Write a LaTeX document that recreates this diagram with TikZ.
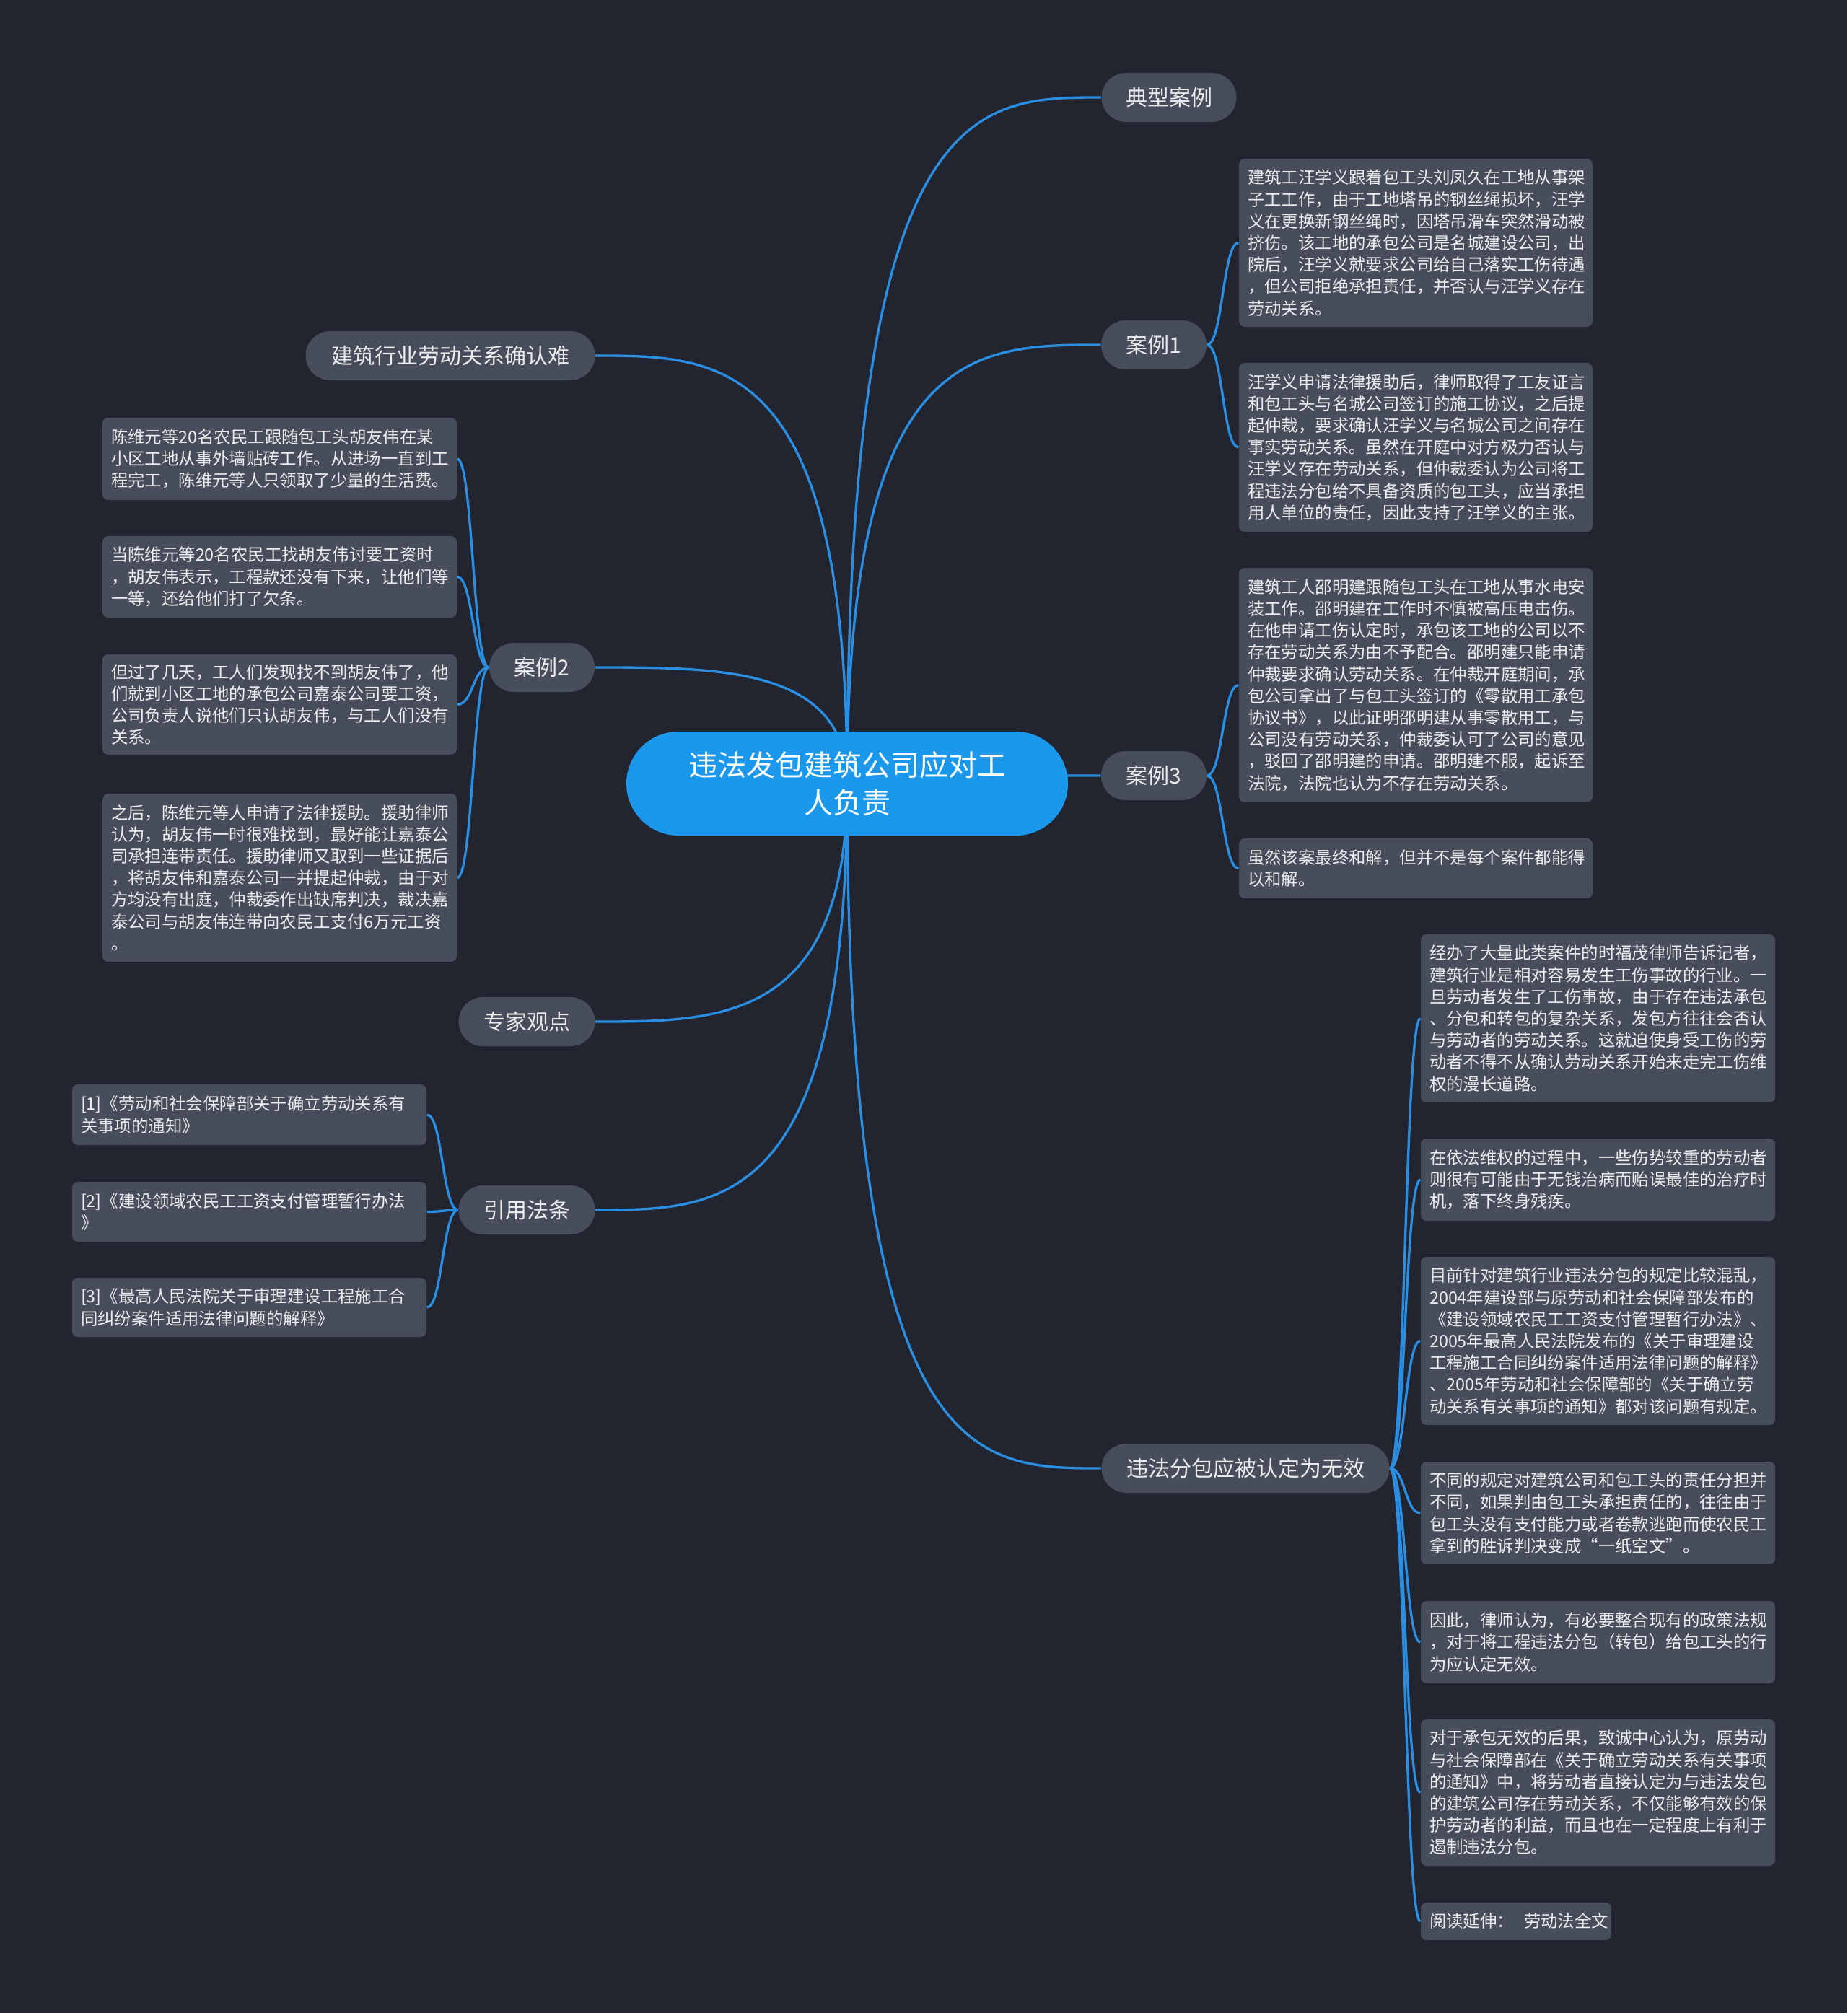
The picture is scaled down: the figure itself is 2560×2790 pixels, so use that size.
\documentclass[tikz,border=0pt]{standalone}
\usepackage{fontspec}
\setmainfont{Noto Sans CJK SC}
\usetikzlibrary{calc}
\definecolor{bgcol}{HTML}{22252F}
\definecolor{boxcol}{HTML}{484D5C}
\definecolor{txtcol}{HTML}{ECECEE}
\definecolor{maincol}{HTML}{1B98EC}
\definecolor{linkcol}{HTML}{2A8FE2}
\pgfdeclarelayer{background}
\pgfsetlayers{background,main}
\tikzset{
  leaf/.style={fill=boxcol, text=txtcol, rounded corners=2.4pt, align=left,
    inner xsep=3.6pt, inner ysep=0pt, font=\fontsize{7.02}{9.06}\selectfont},
  topic/.style={fill=boxcol, text=txtcol, rounded corners=10.2pt, minimum height=20.4pt,
    inner sep=0pt, font=\fontsize{9}{10}\selectfont},
  root/.style={fill=maincol, text=white, rounded corners=21.6pt, minimum width=183.6pt,
    minimum height=43.2pt, align=center, inner sep=0pt, font=\fontsize{12}{15.5}\selectfont},
  link/.style={draw=linkcol, line width=1pt},
}
\newcommand\leafbox[6]{%
  \pgfmathsetmacro\lbH{(#5-#3)*0.3}%
  \pgfmathsetmacro\lbT{(#4-#2-24)*0.3}%
  \node[leaf, minimum height=\lbH pt, text width=\lbT pt] (#1) at ({(#2+#4)/2},{(#3+#5)/2}) {#6};%
}
\newcommand\mainlink[1]{%
  \draw[link] let \p1=(root.center), \p2=(#1) in
    (\p1) .. controls (\x1,\y2) and ({0.5*\x1+0.5*\x2},\y2) .. (\p2);%
}
\newcommand\leaflink[2]{%
  \draw[link] let \p1=(#1), \p2=(#2) in
    (\p1) .. controls ({0.5*\x1+0.5*\x2},\y1) and ({0.5*\x1+0.5*\x2},\y2) .. (\p2);%
}
\begin{document}
\begin{tikzpicture}[x=0.3pt,y=-0.3pt]
\useasboundingbox (0,0) rectangle (2560,2790);

% root
\node[root] (root) at (1174,1086) {违法发包建筑公司应对工\\人负责};

% topics
\node[topic, minimum width=56.1pt]  (t1) at (1620,135)  {典型案例};
\node[topic, minimum width=43.8pt]  (c1) at (1599,478)  {案例1};
\node[topic, minimum width=43.8pt]  (c3) at (1599,1075) {案例3};
\node[topic, minimum width=119.7pt] (wf) at (1726,2035) {违法分包应被认定为无效};
\node[topic, minimum width=120.3pt] (jz) at (624,493)   {建筑行业劳动关系确认难};
\node[topic, minimum width=43.8pt]  (c2) at (751,925)   {案例2};
\node[topic, minimum width=56.7pt]  (zj) at (730,1416)  {专家观点};
\node[topic, minimum width=56.7pt]  (yy) at (730,1677)  {引用法条};

% case 1
\leafbox{a1}{1717}{220}{2207}{453}{建筑工汪学义跟着包工头刘凤久在工地从事架\\子工工作，由于工地塔吊的钢丝绳损坏，汪学\\义在更换新钢丝绳时，因塔吊滑车突然滑动被\\挤伤。该工地的承包公司是名城建设公司，出\\院后，汪学义就要求公司给自己落实工伤待遇\\，但公司拒绝承担责任，并否认与汪学义存在\\劳动关系。}
\leafbox{a2}{1717}{503}{2207}{737}{汪学义申请法律援助后，律师取得了工友证言\\和包工头与名城公司签订的施工协议，之后提\\起仲裁，要求确认汪学义与名城公司之间存在\\事实劳动关系。虽然在开庭中对方极力否认与\\汪学义存在劳动关系，但仲裁委认为公司将工\\程违法分包给不具备资质的包工头，应当承担\\用人单位的责任，因此支持了汪学义的主张。}

% case 3
\leafbox{b1}{1717}{787}{2207}{1112}{建筑工人邵明建跟随包工头在工地从事水电安\\装工作。邵明建在工作时不慎被高压电击伤。\\在他申请工伤认定时，承包该工地的公司以不\\存在劳动关系为由不予配合。邵明建只能申请\\仲裁要求确认劳动关系。在仲裁开庭期间，承\\包公司拿出了与包工头签订的《零散用工承包\\协议书》，以此证明邵明建从事零散用工，与\\公司没有劳动关系，仲裁委认可了公司的意见\\，驳回了邵明建的申请。邵明建不服，起诉至\\法院，法院也认为不存在劳动关系。}
\leafbox{b2}{1717}{1162}{2207}{1245}{虽然该案最终和解，但并不是每个案件都能得\\以和解。}

% illegal subcontracting
\leafbox{e1}{1969}{1295}{2460}{1528}{经办了大量此类案件的时福茂律师告诉记者，\\建筑行业是相对容易发生工伤事故的行业。一\\旦劳动者发生了工伤事故，由于存在违法承包\\、分包和转包的复杂关系，发包方往往会否认\\与劳动者的劳动关系。这就迫使身受工伤的劳\\动者不得不从确认劳动关系开始来走完工伤维\\权的漫长道路。}
\leafbox{e2}{1969}{1578}{2460}{1692}{在依法维权的过程中，一些伤势较重的劳动者\\则很有可能由于无钱治病而贻误最佳的治疗时\\机，落下终身残疾。}
\leafbox{e3}{1969}{1742}{2460}{1975}{目前针对建筑行业违法分包的规定比较混乱，\\2004年建设部与原劳动和社会保障部发布的\\《建设领域农民工工资支付管理暂行办法》、\\2005年最高人民法院发布的《关于审理建设\\工程施工合同纠纷案件适用法律问题的解释》\\、2005年劳动和社会保障部的《关于确立劳\\动关系有关事项的通知》都对该问题有规定。}
\leafbox{e4}{1969}{2026}{2460}{2168}{不同的规定对建筑公司和包工头的责任分担并\\不同，如果判由包工头承担责任的，往往由于\\包工头没有支付能力或者卷款逃跑而使农民工\\拿到的胜诉判决变成“一纸空文”。}
\leafbox{e5}{1969}{2219}{2460}{2333}{因此，律师认为，有必要整合现有的政策法规\\，对于将工程违法分包（转包）给包工头的行\\为应认定无效。}
\leafbox{e6}{1969}{2383}{2460}{2586}{对于承包无效的后果，致诚中心认为，原劳动\\与社会保障部在《关于确立劳动关系有关事项\\的通知》中，将劳动者直接认定为与违法发包\\的建筑公司存在劳动关系，不仅能够有效的保\\护劳动者的利益，而且也在一定程度上有利于\\遏制违法分包。}
\leafbox{e7}{1969}{2637}{2233}{2689}{\mbox{阅读延伸：\hspace{0.6em}劳动法全文}}

% case 2
\leafbox{l1}{142}{579}{633}{693}{陈维元等20名农民工跟随包工头胡友伟在某\\小区工地从事外墙贴砖工作。从进场一直到工\\程完工，陈维元等人只领取了少量的生活费。}
\leafbox{l2}{142}{743}{633}{856}{当陈维元等20名农民工找胡友伟讨要工资时\\，胡友伟表示，工程款还没有下来，让他们等\\一等，还给他们打了欠条。}
\leafbox{l3}{142}{907}{633}{1046}{但过了几天，工人们发现找不到胡友伟了，他\\们就到小区工地的承包公司嘉泰公司要工资，\\公司负责人说他们只认胡友伟，与工人们没有\\关系。}
\leafbox{l4}{142}{1100}{633}{1333}{之后，陈维元等人申请了法律援助。援助律师\\认为，胡友伟一时很难找到，最好能让嘉泰公\\司承担连带责任。援助律师又取到一些证据后\\，将胡友伟和嘉泰公司一并提起仲裁，由于对\\方均没有出庭，仲裁委作出缺席判决，裁决嘉\\泰公司与胡友伟连带向农民工支付6万元工资\\。}

% laws
\leafbox{r1}{100}{1503}{591}{1587}{[1]《劳动和社会保障部关于确立劳动关系有\\关事项的通知》}
\leafbox{r2}{100}{1638}{591}{1721}{[2]《建设领域农民工工资支付管理暂行办法\\》}
\leafbox{r3}{100}{1771}{591}{1853}{[3]《最高人民法院关于审理建设工程施工合\\同纠纷案件适用法律问题的解释》}

\begin{pgfonlayer}{background}
\fill[bgcol] (0,0) rectangle (2560,2790);
\mainlink{t1.west}
\mainlink{c1.west}
\mainlink{c3.west}
\mainlink{wf.west}
\mainlink{jz.east}
\mainlink{c2.east}
\mainlink{zj.east}
\mainlink{yy.east}
\leaflink{c1.east}{a1.west}
\leaflink{c1.east}{a2.west}
\leaflink{c3.east}{b1.west}
\leaflink{c3.east}{b2.west}
\leaflink{wf.east}{e1.west}
\leaflink{wf.east}{e2.west}
\leaflink{wf.east}{e3.west}
\leaflink{wf.east}{e4.west}
\leaflink{wf.east}{e5.west}
\leaflink{wf.east}{e6.west}
\leaflink{wf.east}{e7.west}
\leaflink{c2.west}{l1.east}
\leaflink{c2.west}{l2.east}
\leaflink{c2.west}{l3.east}
\leaflink{c2.west}{l4.east}
\leaflink{yy.west}{r1.east}
\leaflink{yy.west}{r2.east}
\leaflink{yy.west}{r3.east}
\end{pgfonlayer}
\end{tikzpicture}
\end{document}
